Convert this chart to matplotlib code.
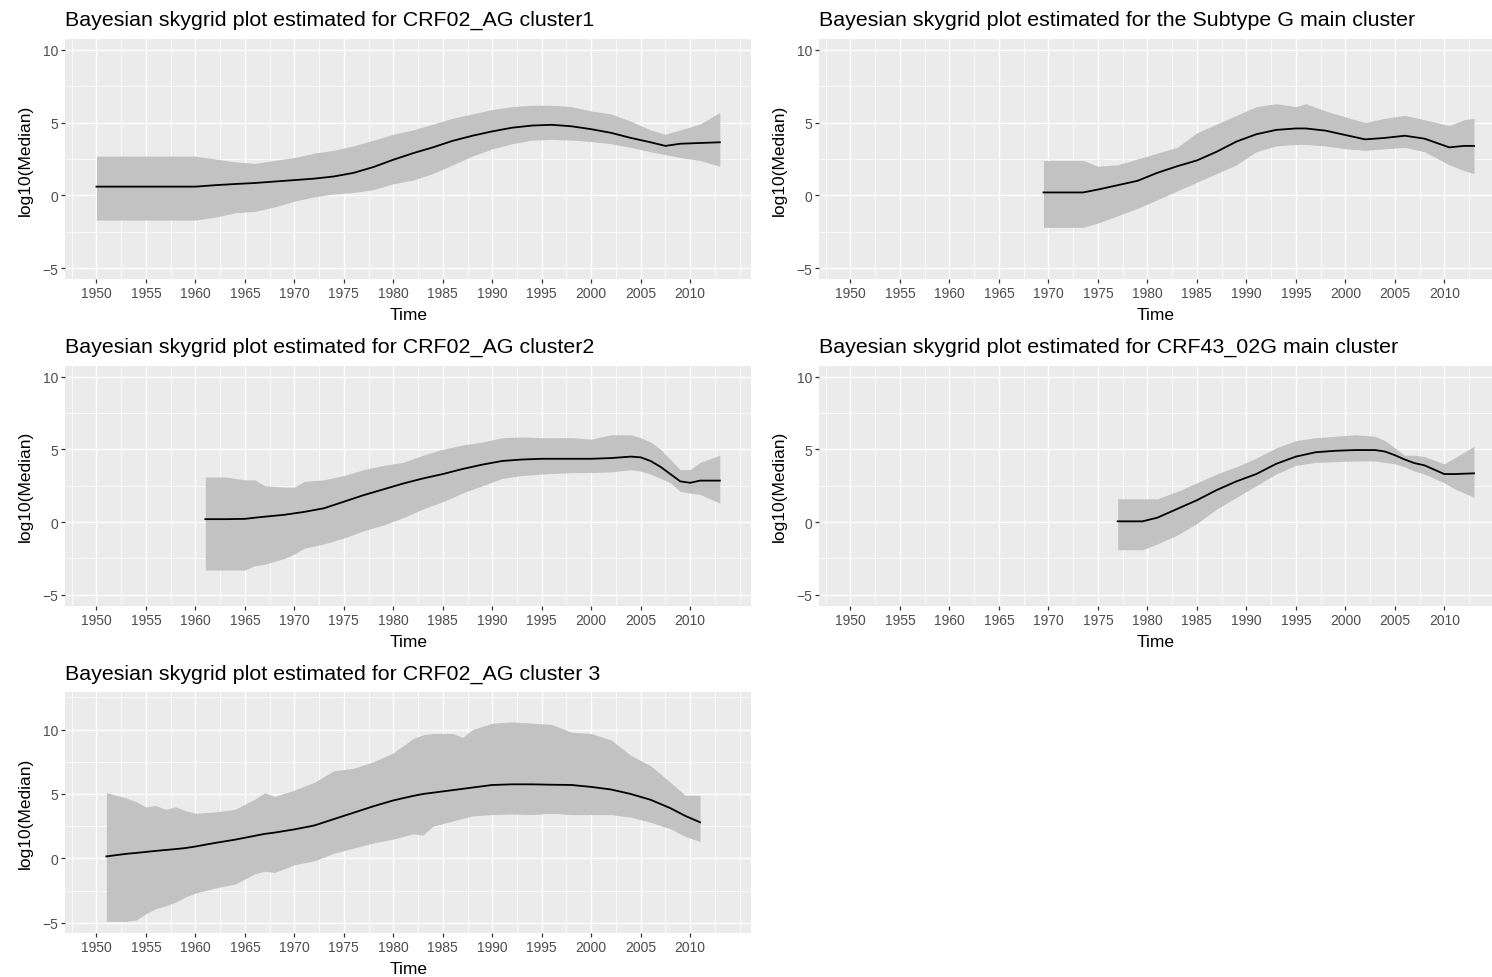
import numpy as np
import matplotlib
matplotlib.use('Agg')
import matplotlib.pyplot as plt

plt.rcParams['font.family'] = ['Liberation Sans', 'DejaVu Sans']

# ---- data ----
titles = ['Bayesian skygrid plot estimated for CRF02_AG cluster1',
          'Bayesian skygrid plot estimated for the Subtype G main cluster',
          'Bayesian skygrid plot estimated for CRF02_AG cluster2',
          'Bayesian skygrid plot estimated for CRF43_02G main cluster',
          'Bayesian skygrid plot estimated for CRF02_AG cluster 3']

# CRF02_AG cluster1
c1_yr = [1950, 1960, 1962, 1964, 1966, 1968, 1970, 1972, 1974, 1976, 1978, 1980, 1982, 1984, 1986,
         1988, 1990, 1992, 1994, 1996, 1998, 2000, 2002, 2004, 2006, 2007.5, 2009, 2011, 2013]
c1_med = [0.6, 0.6, 0.7, 0.78, 0.85, 0.95, 1.05, 1.15, 1.3, 1.55, 1.95, 2.45, 2.9, 3.3, 3.75,
          4.1, 4.4, 4.65, 4.8, 4.85, 4.75, 4.55, 4.3, 3.95, 3.65, 3.4, 3.55, 3.6, 3.65]
c1_up = [2.7, 2.7, 2.5, 2.3, 2.2, 2.4, 2.6, 2.9, 3.1, 3.4, 3.8, 4.2, 4.5, 4.9, 5.3,
         5.6, 5.9, 6.1, 6.2, 6.2, 6.1, 5.8, 5.6, 5.1, 4.5, 4.2, 4.5, 4.9, 5.7]
c1_lo = [-1.7, -1.7, -1.5, -1.2, -1.1, -0.8, -0.4, -0.1, 0.1, 0.2, 0.4, 0.8, 1.05, 1.5, 2.1,
         2.7, 3.2, 3.55, 3.8, 3.85, 3.8, 3.7, 3.55, 3.3, 3.0, 2.8, 2.6, 2.4, 2.0]

# Subtype G main cluster
g_yr = [1969.5, 1973.5, 1975, 1977, 1979, 1981, 1983, 1985, 1987, 1989, 1991, 1993, 1995,
        1996, 1998, 2000, 2002, 2004, 2006, 2008, 2010.5, 2012, 2013]
g_med = [0.2, 0.2, 0.4, 0.7, 1.0, 1.55, 2.0, 2.4, 3.0, 3.7, 4.2, 4.5, 4.6,
         4.6, 4.45, 4.15, 3.85, 3.95, 4.1, 3.9, 3.3, 3.4, 3.4]
g_up = [2.4, 2.4, 2.0, 2.1, 2.5, 2.9, 3.3, 4.3, 4.9, 5.5, 6.1, 6.3, 6.1,
        6.3, 5.8, 5.4, 5.0, 5.3, 5.5, 5.2, 4.8, 5.2, 5.3]
g_lo = [-2.2, -2.2, -1.9, -1.4, -0.9, -0.3, 0.3, 0.9, 1.5, 2.1, 3.0, 3.4, 3.5,
        3.5, 3.4, 3.2, 3.1, 3.2, 3.3, 3.0, 2.1, 1.7, 1.5]

# CRF02_AG cluster2
c2_yr = [1961, 1963, 1965, 1966, 1967, 1969, 1970, 1971, 1973, 1975, 1977, 1979, 1981, 1983, 1985, 1987,
         1989, 1991, 1993, 1995, 1998, 2000, 2002, 2004, 2005, 2006, 2007, 2008, 2009, 2010, 2011, 2013]
c2_med = [0.2, 0.2, 0.22, 0.3, 0.37, 0.5, 0.6, 0.7, 0.95, 1.4, 1.85, 2.25, 2.65, 3.0, 3.3, 3.65,
          3.95, 4.2, 4.3, 4.35, 4.35, 4.35, 4.4, 4.5, 4.45, 4.2, 3.8, 3.3, 2.8, 2.7, 2.85, 2.85]
c2_up = [3.1, 3.1, 2.9, 2.9, 2.5, 2.4, 2.4, 2.8, 2.9, 3.2, 3.6, 3.9, 4.1, 4.6, 5.0, 5.3,
         5.5, 5.8, 5.85, 5.8, 5.8, 5.7, 6.0, 6.0, 5.8, 5.5, 5.0, 4.3, 3.6, 3.6, 4.1, 4.6]
c2_lo = [-3.3, -3.3, -3.3, -3.0, -2.9, -2.5, -2.2, -1.8, -1.5, -1.1, -0.6, -0.2, 0.3, 0.9, 1.4, 2.0,
         2.5, 3.0, 3.2, 3.3, 3.4, 3.4, 3.45, 3.6, 3.5, 3.3, 3.0, 2.7, 2.1, 2.0, 1.9, 1.3]

# CRF43_02G main cluster
c43_yr = [1977, 1979.5, 1981, 1983, 1985, 1987, 1989, 1991, 1993, 1995, 1997, 1999, 2001, 2003,
          2004, 2005, 2006, 2007, 2008, 2010, 2011, 2013]
c43_med = [0.05, 0.05, 0.3, 0.9, 1.5, 2.2, 2.8, 3.3, 4.0, 4.5, 4.8, 4.9, 4.95, 4.95,
           4.85, 4.6, 4.3, 4.05, 3.9, 3.3, 3.3, 3.35]
c43_up = [1.6, 1.6, 1.6, 2.1, 2.7, 3.3, 3.8, 4.4, 5.1, 5.6, 5.8, 5.9, 6.0, 5.9,
          5.6, 5.1, 4.6, 4.6, 4.5, 4.0, 4.4, 5.2]
c43_lo = [-1.9, -1.9, -1.5, -0.9, -0.1, 0.9, 1.7, 2.5, 3.3, 3.9, 4.1, 4.15, 4.2, 4.2,
          4.1, 4.0, 3.8, 3.5, 3.3, 2.7, 2.3, 1.7]

# CRF02_AG cluster 3
c3_yr = [1951, 1953, 1954, 1955, 1956, 1957, 1958, 1959, 1960, 1962, 1964, 1966, 1967, 1968, 1970,
         1972, 1974, 1976, 1978, 1980, 1982, 1983, 1984, 1986, 1987, 1988, 1990, 1992, 1994, 1996,
         1998, 2000, 2002, 2004, 2006, 2008, 2009.5, 2011]
c3_med = [0.15, 0.35, 0.42, 0.5, 0.58, 0.65, 0.72, 0.8, 0.92, 1.2, 1.45, 1.75, 1.9, 2.0, 2.25,
          2.55, 3.05, 3.55, 4.05, 4.5, 4.85, 5.0, 5.1, 5.3, 5.4, 5.5, 5.7, 5.75, 5.75, 5.72,
          5.7, 5.55, 5.35, 5.0, 4.55, 3.9, 3.3, 2.8]
c3_up = [5.1, 4.7, 4.4, 4.0, 4.1, 3.8, 4.0, 3.7, 3.5, 3.6, 3.8, 4.6, 5.1, 4.8, 5.3,
         5.9, 6.8, 7.0, 7.5, 8.2, 9.3, 9.6, 9.7, 9.7, 9.4, 10.0, 10.5, 10.6, 10.5, 10.4,
         9.8, 9.7, 9.2, 8.0, 7.2, 5.9, 4.9, 4.9]
c3_lo = [-4.9, -4.9, -4.8, -4.3, -3.9, -3.7, -3.4, -3.0, -2.7, -2.3, -2.0, -1.2, -1.0, -1.1, -0.5,
         -0.2, 0.4, 0.8, 1.2, 1.5, 1.9, 1.8, 2.5, 2.9, 3.1, 3.3, 3.4, 3.45, 3.4, 3.5,
         3.4, 3.4, 3.4, 3.2, 2.8, 2.3, 1.7, 1.3]

year_ticks = list(range(1950, 2011, 5))
year_minor = list(np.arange(1947.5, 2015, 5)) + [2015]
y_ticks = [-5, 0, 5, 10]
y_minor = [-2.5, 2.5, 7.5, 12.5]

W, H = 1492, 978
fig = plt.figure(figsize=(W/100., H/100.), dpi=100)

bg = '#EBEBEB'
band = '#C2C2C2'

def panel(left, top, right, bottom, x1, y0, y1, yr, med, up, lo, title):
    ax = fig.add_axes([left/W, 1-bottom/H, (right-left)/W, (bottom-top)/H])
    ax.set_facecolor(bg)
    ax.fill_between(yr, lo, up, color=band, lw=0, zorder=2)
    ax.plot(yr, med, color='black', lw=1.3, zorder=3)
    ax.set_xticks(year_ticks)
    ax.set_yticks(y_ticks)
    ax.set_xticks(year_minor, minor=True)
    ax.set_yticks(y_minor, minor=True)
    # limits after ticks, otherwise set_ticks widens them
    ax.set_xlim(1946.85, x1)
    ax.set_ylim(y0, y1)
    ax.grid(which='major', color='white', lw=1.0, zorder=1)
    ax.grid(which='minor', color='white', lw=0.5, zorder=1)
    ax.set_axisbelow(True)
    for s in ax.spines.values():
        s.set_visible(False)
    ax.tick_params(which='major', length=3, width=0.9, color='#333333',
                   labelcolor='#4D4D4D', labelsize=10, pad=2)
    ax.tick_params(which='minor', length=0)
    ax.set_xlabel('Time', fontsize=12.5, labelpad=5)
    ax.set_ylabel('log10(Median)', fontsize=12.5, labelpad=7)
    fig.text(left/W, 1-(top-14)/H, title, fontsize=15.4, ha='left', va='baseline')
    return ax

# left column panels
panel(65.3, 40, 751, 280, 2016.15, -5.75, 10.75, c1_yr, c1_med, c1_up, c1_lo, titles[0])
panel(65.3, 366.7, 751, 606.7, 2016.15, -5.75, 10.75, c2_yr, c2_med, c2_up, c2_lo, titles[2])
panel(65.3, 693.3, 751, 934, 2016.15, -5.8, 12.9, c3_yr, c3_med, c3_up, c3_lo, titles[4])
# right column (cut off at the picture edge)
panel(819.3, 40, 1492, 280, 2014.82, -5.75, 10.75, g_yr, g_med, g_up, g_lo, titles[1])
panel(819.3, 366.7, 1492, 606.7, 2014.82, -5.75, 10.75, c43_yr, c43_med, c43_up, c43_lo, titles[3])

plt.savefig('out.png', dpi=100)
